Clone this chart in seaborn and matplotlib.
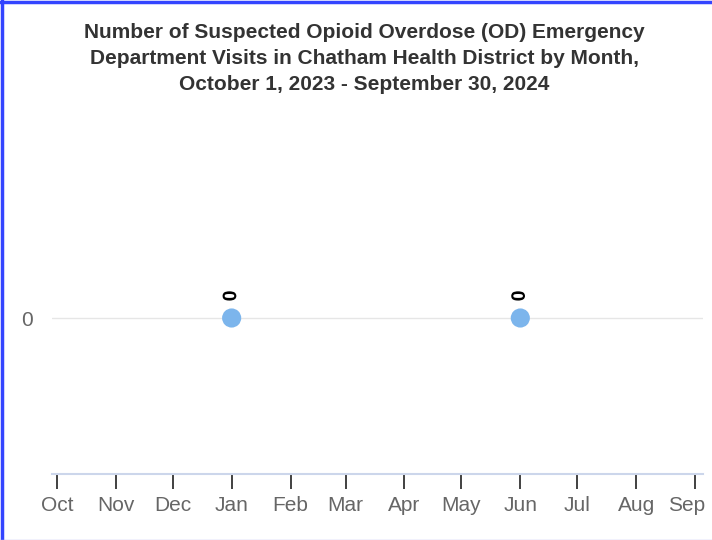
import pandas as pd
import matplotlib.pyplot as plt
from matplotlib.lines import Line2D
import matplotlib.patheffects as pe
import matplotlib.transforms as mtransforms
import seaborn as sns

# Datos: solo los meses con valor reportado
fechas = ["2024-01-01", "2024-06-01"]
visitas = [0, 0]
meses = ["Oct", "Nov", "Dec", "Jan", "Feb", "Mar", "Apr", "May", "Jun", "Jul", "Aug", "Sep"]
inicio_meses = pd.date_range("2023-10-01", "2024-09-01", freq="MS")

titulo = ("Number of Suspected Opioid Overdose (OD) Emergency\n"
          "Department Visits in Chatham Health District by Month,\n"
          "October 1, 2023 - September 30, 2024")

df = pd.DataFrame({"fecha": pd.to_datetime(fechas), "visitas": visitas})

sns.set_style("white")
plt.rcParams['font.family'] = ['Liberation Sans', 'DejaVu Sans']

fig = plt.figure(figsize=(7.12, 5.4), dpi=100)
ax = fig.add_axes([52 / 712, 1 - 474 / 540, (703 - 52) / 712, (474 - 162) / 540])

ax.axhline(0, color="#e6e6e6", lw=1, zorder=0)
sns.scatterplot(data=df, x="fecha", y="visitas", ax=ax, color="#7cb5ec",
                s=190, edgecolor="none", zorder=3)

for f, v in zip(df["fecha"], df["visitas"]):
    ax.annotate(str(v), (f, v), xytext=(0, 12), textcoords="offset points",
                rotation=90, ha="center", va="bottom", fontsize=14,
                fontweight="bold", color="black",
                path_effects=[pe.withStroke(linewidth=2, foreground="white")])

ax.set_ylim(-1, 1)
ax.set_yticks([0])
ax.set_yticklabels(["0"])
ax.set_xlim(pd.Timestamp("2023-10-01") - pd.Timedelta(days=2.6),
            pd.Timestamp("2024-09-01") + pd.Timedelta(days=4.2))
ax.set_xticks(inicio_meses)
ax.set_xticklabels(meses)

ax.tick_params(axis="x", bottom=True, length=11, width=1.3, color="#333333", pad=5,
               labelsize=15, labelcolor="#666666", direction="out")
ax.tick_params(axis="y", left=False, length=0, pad=14, labelsize=15, labelcolor="#666666")
ax.set_xlabel("")
ax.set_ylabel("")

# la ultima etiqueta se corre a la izquierda para que quepa
ult = ax.get_xticklabels()[-1]
ult.set_transform(ult.get_transform() + mtransforms.ScaledTranslation(-8 / 100, 0, fig.dpi_scale_trans))

for s in ["top", "right", "left"]:
    ax.spines[s].set_visible(False)
ax.spines["bottom"].set_color("#ccd6eb")
ax.spines["bottom"].set_linewidth(1.5)

fig.text(364 / 712, 1 - 23 / 540, titulo, ha="center", va="top", fontsize=15,
         fontweight="bold", color="#333333", linespacing=1.45)

# Borde de la figura
fig.add_artist(Line2D([1.5 / 712, 1.5 / 712], [0, 1], color="#3344ff", lw=2.5))
fig.add_artist(Line2D([0, 1], [1 - 1.5 / 540, 1 - 1.5 / 540], color="#3344ff", lw=2.5))
fig.add_artist(Line2D([0, 1], [0.5 / 540, 0.5 / 540], color="#b8bcf0", lw=1))

fig.savefig("out.png", dpi=100)
